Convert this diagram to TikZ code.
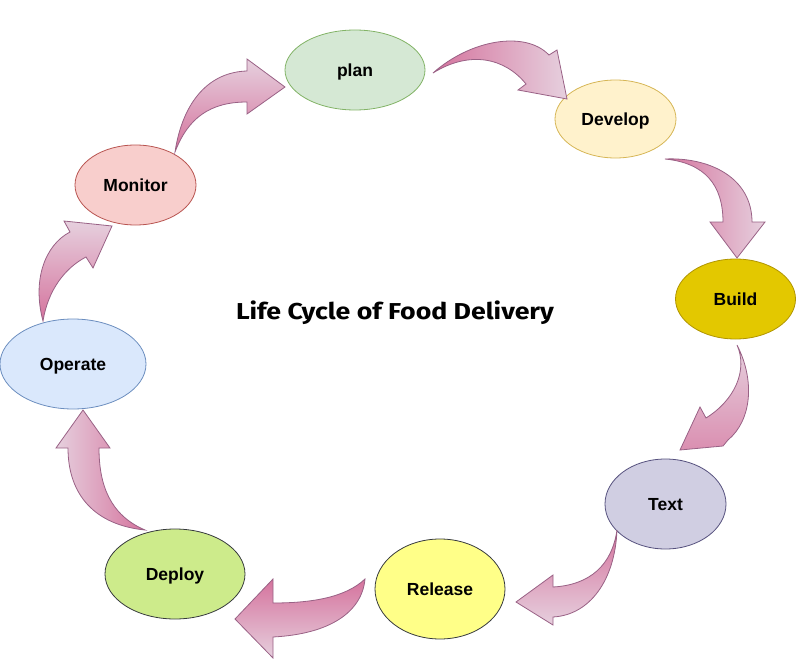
\documentclass[tikz,border=0pt]{standalone}
\usepackage{fontspec}
\setmainfont{Liberation Sans}
\newfontfamily\titlefont{Fira Sans}
\usetikzlibrary{shapes.geometric}
\definecolor{arrdark}{HTML}{D5739D}
\definecolor{arrlight}{HTML}{E6D0DE}
\definecolor{arrline}{HTML}{996185}
\tikzset{
  stage/.style={ellipse, draw, line width=0.8pt, inner sep=0pt,
    text height=12.5pt, text depth=0pt,
    font=\fontsize{17.5}{20}\selectfont\bfseries},
  bigarrow/.style={draw=arrline, line width=0.8pt, line join=miter}
}
\begin{document}
\begin{tikzpicture}[x=1pt,y=-1pt]
\useasboundingbox (0,0) rectangle (796,661);
% stages
\node[stage, fill={rgb,255:red,213;green,232;blue,212}, draw={rgb,255:red,130;green,179;blue,102}, minimum width=140pt, minimum height=80pt] (plan) at (355,70) {plan};
\node[stage, fill={rgb,255:red,255;green,242;blue,204}, draw={rgb,255:red,214;green,182;blue,86}, minimum width=121pt, minimum height=78pt] (develop) at (615.5,119) {Develop};
\node[stage, fill={rgb,255:red,227;green,200;blue,0}, draw={rgb,255:red,176;green,149;blue,0}, minimum width=120pt, minimum height=80pt] (build) at (735.5,299) {Build};
\node[stage, fill={rgb,255:red,208;green,206;blue,226}, draw={rgb,255:red,86;green,81;blue,126}, minimum width=121pt, minimum height=90pt] (text) at (665.5,504) {Text};
\node[stage, fill={rgb,255:red,255;green,255;blue,136}, draw={rgb,255:red,54;green,57;blue,61}, minimum width=130pt, minimum height=100pt] (release) at (440,589) {Release};
\node[stage, fill={rgb,255:red,205;green,235;blue,139}, draw={rgb,255:red,54;green,57;blue,61}, minimum width=140pt, minimum height=90pt] (deploy) at (175,574) {Deploy};
\node[stage, fill={rgb,255:red,218;green,232;blue,252}, draw={rgb,255:red,108;green,142;blue,191}, minimum width=146pt, minimum height=90pt] (operate) at (73,364) {Operate};
\node[stage, fill={rgb,255:red,248;green,206;blue,204}, draw={rgb,255:red,184;green,84;blue,80}, minimum width=121pt, minimum height=80pt] (monitor) at (135.5,185) {Monitor};
% title
\node (title) at (395,313) {\scalebox{1.16}[1]{\titlefont\fontsize{23}{26}\selectfont\bfseries Life Cycle of Food Delivery}};
% curved arrows
% plan -> Develop
\draw[bigarrow, left color=arrdark, right color=arrlight]
  (433,73) .. controls (470,40) and (525,30) .. (549,55) -- (557,50) -- (567,99) -- (518,90) -- (526,84)
  .. controls (505,58) and (470,50) .. (433,73) -- cycle;
% Develop -> Build
\draw[bigarrow, left color=arrdark, right color=arrlight]
  (665,159) .. controls (710,157) and (752,178) .. (752,222) -- (765,222) -- (737,258) -- (710,222) -- (723,222)
  .. controls (723,185) and (705,163) .. (665,159) -- cycle;
% Build -> Text
\draw[bigarrow, top color=arrlight, bottom color=arrdark!70!arrlight]
  (737,345) .. controls (755,380) and (752,420) .. (728,440) -- (723,446) -- (680,450) -- (700,407) -- (706,418)
  .. controls (735,400) and (748,370) .. (737,345) -- cycle;
% Text -> Release
\draw[bigarrow, top color=arrdark, bottom color=arrlight]
  (617,530) .. controls (615,580) and (590,615) .. (553,617) -- (553,625) -- (516,602) -- (553,575) -- (553,587)
  .. controls (590,585) and (612,565) .. (617,530) -- cycle;
% Release -> Deploy
\draw[bigarrow, top color=arrdark, bottom color=arrlight]
  (365,579) .. controls (345,598) and (310,603) .. (273,603) -- (273,579) -- (235,619) -- (273,658) -- (273,637)
  .. controls (330,634) and (362,612) .. (365,579) -- cycle;
% Deploy -> Operate
\draw[bigarrow, left color=arrlight, right color=arrdark]
  (145,530) .. controls (110,515) and (99,485) .. (99,448) -- (110,448) -- (83,410) -- (56,448) -- (68,448)
  .. controls (68,495) and (95,525) .. (145,530) -- cycle;
% Operate -> Monitor
\draw[bigarrow, top color=arrlight, bottom color=arrdark]
  (43,321) .. controls (32,280) and (45,245) .. (70,232) -- (64,221) -- (112,226) -- (93,268) -- (86,257)
  .. controls (65,268) and (48,290) .. (43,321) -- cycle;
% Monitor -> plan
\draw[bigarrow, top color=arrlight, bottom color=arrdark]
  (175,152) .. controls (183,100) and (210,72) .. (247,71) -- (247,59) -- (285,87) -- (247,114) -- (247,102)
  .. controls (210,102) and (188,118) .. (175,152) -- cycle;
\end{tikzpicture}
\end{document}
